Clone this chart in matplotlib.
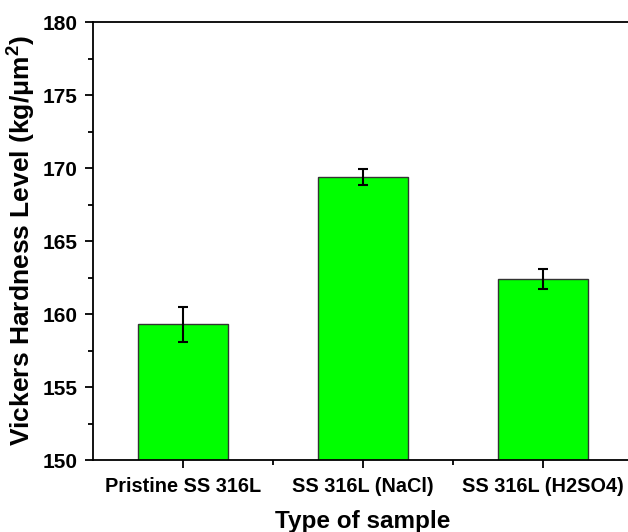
import matplotlib
matplotlib.use("Agg")
import matplotlib.pyplot as plt
from matplotlib.ticker import MultipleLocator, FixedLocator

samples = ["Pristine SS 316L", "SS 316L (NaCl)", "SS 316L (H2SO4)"]
hardness = [159.3, 169.4, 162.4]
errors = [1.2, 0.55, 0.7]

plt.rcParams['font.family'] = ['Liberation Sans', 'DejaVu Sans']
plt.rcParams['font.weight'] = 'bold'
plt.rcParams['mathtext.fontset'] = 'custom'
plt.rcParams['mathtext.rm'] = 'Liberation Sans:bold'
plt.rcParams['mathtext.bf'] = 'Liberation Sans:bold'

fig = plt.figure(figsize=(6.28, 5.32), dpi=100)
ax = fig.add_axes([0.148, 0.1353, 0.86, 0.8233])

x = list(range(len(samples)))
ax.bar(x, hardness, width=0.5, color="#00ff00", edgecolor="#333333", linewidth=1.0,
       yerr=errors, capsize=3.5, error_kw={'elinewidth': 1.5, 'capthick': 1.5, 'ecolor': 'black'})

ax.set_ylim(150, 180)
ax.set_xlim(-0.5, 2.5)
ax.yaxis.set_major_locator(MultipleLocator(5))
ax.yaxis.set_minor_locator(MultipleLocator(2.5))
ax.set_xticks(x)
ax.set_xticklabels(samples)
ax.xaxis.set_minor_locator(FixedLocator([0.5, 1.5]))

ax.tick_params(axis='both', which='major', direction='out', length=6, width=1.3, labelsize=15, pad=5)
ax.tick_params(axis='x', labelsize=14.3, pad=6)
ax.tick_params(axis='both', which='minor', direction='out', length=3.5, width=1.3)
for lab in ax.get_xticklabels() + ax.get_yticklabels():
    lab.set_fontweight('bold')

for s in ax.spines.values():
    s.set_linewidth(1.3)

ax.set_ylabel("Vickers Hardness Level (kg/μm$^{2}$)", fontsize=19, fontweight='bold', labelpad=4)
ax.set_xlabel("Type of sample", fontsize=17.5, fontweight='bold', labelpad=10)

fig.savefig("out.png", dpi=100)
